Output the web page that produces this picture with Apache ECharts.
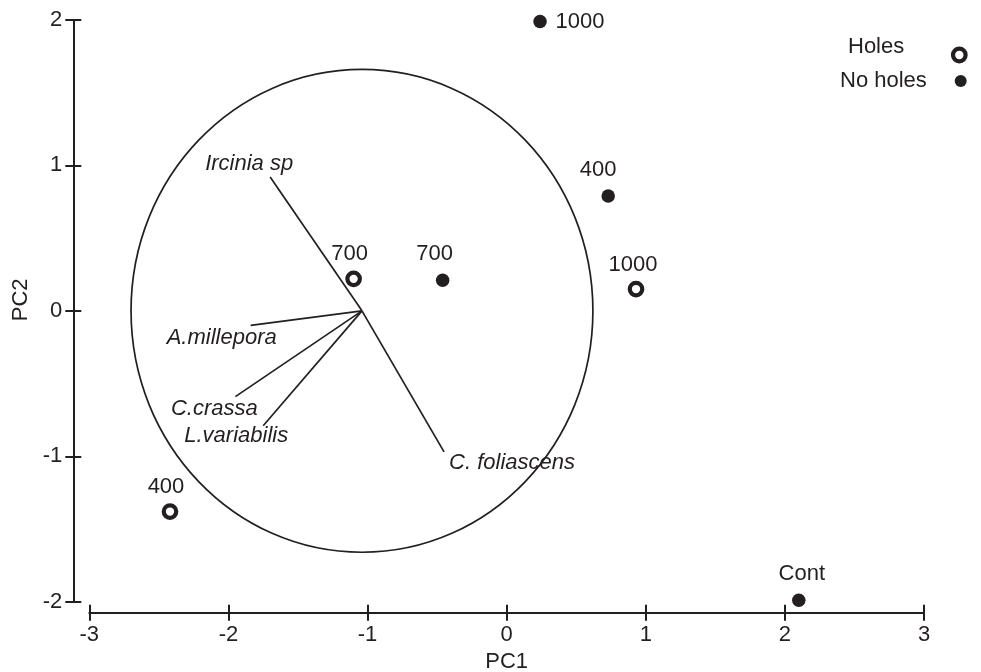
<!DOCTYPE html>
<html>
<head>
<meta charset="utf-8">
<title>PCA biplot</title>
<script src="https://cdn.jsdelivr.net/npm/echarts@6/dist/echarts.min.js"></script>
<style>
  html, body { margin: 0; padding: 0; background: #fff; }
  #chart { width: 981px; height: 672px; }
</style>
</head>
<body>
<div id="chart"></div>
<script>
// Sample scores on the first two principal components
const holesLabels = ['700', '1000', '400'];
const holesPC1 = [-1.10, 0.93, -2.42];
const holesPC2 = [0.22, 0.15, -1.38];

const noHolesLabels = ['1000', '400', '700', 'Cont'];
const noHolesPC1 = [0.24, 0.73, -0.46, 2.10];
const noHolesPC2 = [1.99, 0.79, 0.21, -1.99];

// Species loading vectors, drawn from a common origin
const speciesNames = ['Ircinia sp', 'A.millepora', 'C.crassa', 'L.variabilis', 'C. foliascens'];
const speciesPC1 = [-1.70, -1.84, -1.95, -1.75, -0.45];
const speciesPC2 = [0.92, -0.10, -0.59, -0.79, -0.97];
const vectorOrigin = [-1.04, 0];

// Correlation circle
const circleCenter = [-1.04, 0];
const circleRadius = 1.66;

// Axis ticks
const xTicks = [-3, -2, -1, 0, 1, 2, 3];
const yTicks = [-2, -1, 0, 1, 2];

// Label placement (pixel shifts of the label centre from its point)
const holesLabelShift = [[-4, -25], [-3, -24], [-4, -25]];
const noHolesLabelShift = [[40, 0], [-10, -26], [-8, -26], [3, -26]];
const speciesLabelShift = [[-21, -13], [-29, 12], [-21, 12], [-27, 10], [68, 11]];

const INK = '#231f20';
const FONT = '"Liberation Sans", Arial, Helvetica, sans-serif';
const FS = 22;

const chart = echarts.init(document.getElementById('chart'), null, { renderer: 'canvas' });

// Each axis is drawn twice: once with outward ticks and labels, once with
// inward ticks only, so the tick marks cross the axis line.
function axisPair(kind, ticks, offset, nameCfg) {
  const base = {
    type: 'value',
    min: ticks[0],
    max: ticks[ticks.length - 1],
    interval: 1,
    splitLine: { show: false },
    offset: offset,
    position: kind === 'x' ? 'bottom' : 'left'
  };
  const main = Object.assign({}, base, {
    axisLine: { show: true, onZero: false, lineStyle: { color: INK, width: 2 } },
    axisTick: { show: true, inside: false, length: 8, lineStyle: { color: INK, width: 2 } },
    axisLabel: {
      show: true, color: INK, fontFamily: FONT, fontSize: FS,
      margin: 11,
      formatter: v => String(v)
    }
  }, nameCfg);
  const inner = Object.assign({}, base, {
    axisLine: { show: false, onZero: false },
    axisTick: { show: true, inside: true, length: 8, lineStyle: { color: INK, width: 2 } },
    axisLabel: { show: false }
  });
  return [main, inner];
}

const xAxes = axisPair('x', xTicks, 11, {
  name: 'PC1', nameLocation: 'middle', nameGap: 38,
  nameTextStyle: { color: INK, fontFamily: FONT, fontSize: FS }
});
const yAxes = axisPair('y', yTicks, 16, {
  name: 'PC2', nameLocation: 'middle', nameGap: 38,
  nameTextStyle: { color: INK, fontFamily: FONT, fontSize: FS, padding: [0, 0, 0, 22] }
});

function scatterData(labels, xs, ys, shifts) {
  return labels.map((l, i) => ({
    value: [xs[i], ys[i]],
    name: l,
    label: { offset: shifts[i] }
  }));
}

const pointLabel = {
  show: true,
  position: 'inside',
  formatter: p => p.name,
  color: INK,
  fontFamily: FONT,
  fontSize: FS
};

const option = {
  animation: false,
  backgroundColor: '#ffffff',
  grid: {
    left: 89.3, right: 57, top: 20, bottom: 70.3,
    containLabel: false,
    outerBoundsMode: 'none'
  },
  xAxis: xAxes,
  yAxis: yAxes,
  series: [
    {
      name: 'circle',
      type: 'custom',
      silent: true,
      clip: false,
      data: [[circleCenter[0], circleCenter[1], circleRadius]],
      renderItem: function (params, api) {
        const cx = api.value(0), cy = api.value(1), r = api.value(2);
        const c = api.coord([cx, cy]);
        const px = api.coord([cx + r, cy]);
        const py = api.coord([cx, cy + r]);
        return {
          type: 'ellipse',
          shape: { cx: c[0], cy: c[1], rx: px[0] - c[0], ry: c[1] - py[1] },
          style: { fill: 'none', stroke: INK, lineWidth: 1.7 }
        };
      }
    },
    {
      name: 'species',
      type: 'custom',
      silent: true,
      clip: false,
      data: speciesNames.map((n, i) => [speciesPC1[i], speciesPC2[i], i]),
      renderItem: function (params, api) {
        const i = api.value(2);
        const o = api.coord(vectorOrigin);
        const e = api.coord([api.value(0), api.value(1)]);
        const s = speciesLabelShift[i];
        return {
          type: 'group',
          children: [
            {
              type: 'line',
              shape: { x1: o[0], y1: o[1], x2: e[0], y2: e[1] },
              style: { stroke: INK, lineWidth: 1.7 }
            },
            {
              type: 'text',
              x: e[0] + s[0],
              y: e[1] + s[1],
              style: {
                text: speciesNames[i],
                fill: INK,
                font: 'italic ' + FS + 'px ' + FONT,
                align: 'center',
                verticalAlign: 'middle'
              }
            }
          ]
        };
      }
    },
    {
      name: 'Holes',
      type: 'scatter',
      clip: false,
      symbol: 'circle',
      symbolSize: 12.5,
      itemStyle: { color: '#ffffff', borderColor: INK, borderWidth: 4.2, opacity: 1 },
      label: pointLabel,
      data: scatterData(holesLabels, holesPC1, holesPC2, holesLabelShift)
    },
    {
      name: 'No holes',
      type: 'scatter',
      clip: false,
      symbol: 'circle',
      symbolSize: 13.5,
      itemStyle: { color: INK, opacity: 1 },
      label: pointLabel,
      data: scatterData(noHolesLabels, noHolesPC1, noHolesPC2, noHolesLabelShift)
    }
  ],
  graphic: [
    {
      type: 'text', x: 848, y: 46.7,
      style: { text: 'Holes', fill: INK, font: FS + 'px ' + FONT, verticalAlign: 'middle' }
    },
    {
      type: 'circle', shape: { cx: 959.3, cy: 55, r: 6.3 },
      style: { fill: '#ffffff', stroke: INK, lineWidth: 4.2 }
    },
    {
      type: 'text', x: 840, y: 80.7,
      style: { text: 'No holes', fill: INK, font: FS + 'px ' + FONT, verticalAlign: 'middle' }
    },
    {
      type: 'circle', shape: { cx: 960.7, cy: 81, r: 6 },
      style: { fill: INK }
    }
  ]
};

chart.setOption(option);
</script>
</body>
</html>
